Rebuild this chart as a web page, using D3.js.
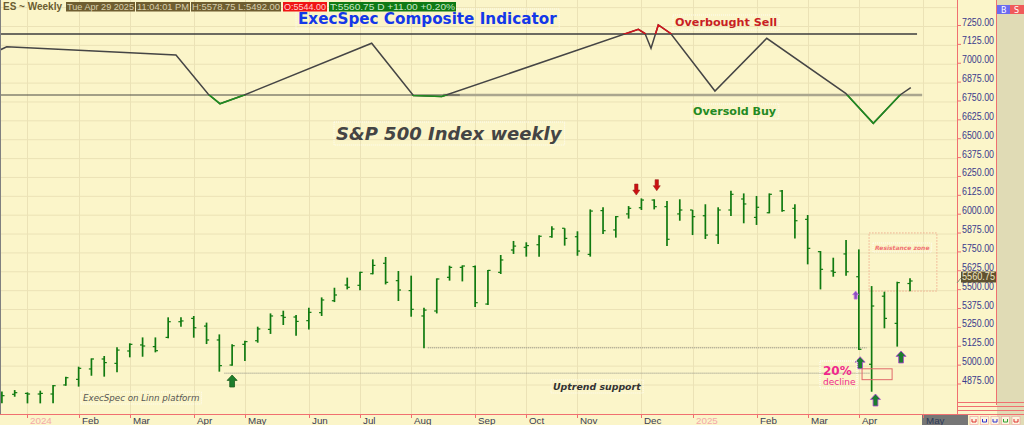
<!DOCTYPE html>
<html>
<head>
<meta charset="utf-8">
<script src="https://cdn.jsdelivr.net/npm/d3@7/dist/d3.min.js"></script>
<style>
  body { margin: 0; background: #fbf5c9; overflow: hidden; }
  svg { display: block; }
</style>
</head>
<body>
<div id="chart"></div>
<script>
// weekly ES bars, dated by the last session of each week
var weeks = ["2023-12-22","2023-12-29","2024-01-05","2024-01-12","2024-01-19","2024-01-26",
  "2024-02-02","2024-02-09","2024-02-16","2024-02-23","2024-03-01","2024-03-08","2024-03-15",
  "2024-03-22","2024-03-28","2024-04-05","2024-04-12","2024-04-19","2024-04-26","2024-05-03",
  "2024-05-10","2024-05-17","2024-05-24","2024-05-31","2024-06-07","2024-06-14","2024-06-21",
  "2024-06-28","2024-07-05","2024-07-12","2024-07-19","2024-07-26","2024-08-02","2024-08-09",
  "2024-08-16","2024-08-23","2024-08-30","2024-09-06","2024-09-13","2024-09-20","2024-09-27",
  "2024-10-04","2024-10-11","2024-10-18","2024-10-25","2024-11-01","2024-11-08","2024-11-15",
  "2024-11-22","2024-11-29","2024-12-06","2024-12-13","2024-12-20","2024-12-27","2025-01-03",
  "2025-01-10","2025-01-17","2025-01-24","2025-01-31","2025-02-07","2025-02-14","2025-02-21",
  "2025-02-28","2025-03-07","2025-03-14","2025-03-21","2025-03-28","2025-04-04","2025-04-11",
  "2025-04-17","2025-04-25","2025-04-29"];

var open  = [4812,4810,4816,4812,4812,4872,4909,4978,5044,5015,5097,5137,5126,5187,5291,5313,5262,5170,
  5004,5141,5165,5240,5331,5322,5298,5351,5430,5534,5532,5609,5678,5563,5497,5329,5362,5585,5651,5656,
  5408,5618,5766,5784,5801,5854,5910,5854,5737,6027,5899,6005,6046,6097,6053,6005,6031,5993,5865,6031,
  6104,5982,6013,6157,6042,5969,5755,5627,5740,5589,5009,5460,5280,5544];
var high  = [4828,4838,4823,4834,4872,4927,4993,5048,5064,5121,5148,5187,5187,5320,5320,5329,5285,5207,
  5141,5165,5258,5346,5364,5335,5384,5452,5516,5583,5622,5704,5720,5627,5596,5384,5578,5662,5664,5664,
  5633,5733,5826,5817,5863,5923,5910,5890,6035,6049,5991,6057,6108,6102,6091,6102,6031,6069,6049,6159,
  6141,6124,6141,6164,6069,5998,5759,5715,5832,5770,5527,5490,5556,5578.75];
var low   = [4750,4794,4750,4750,4750,4867,4861,4933,4927,4956,5055,5059,5088,5181,5258,5185,5143,4960,
  5000,5031,5152,5210,5269,5198,5240,5329,5421,5505,5499,5605,5538,5428,5324,5115,5346,5563,5558,5388,
  5402,5607,5740,5722,5722,5848,5795,5728,5722,5872,5848,5974,6031,6035,5792,5960,5865,5839,5806,5991,
  5943,5932,6009,6020,5843,5671,5505,5589,5596,5104,4827,5247,5126,5492];
var close = [4801,4821,4812,4816,4867,4920,4982,5044,5020,5103,5141,5130,5099,5291,5296,5251,5170,5000,
  5132,5159,5243,5329,5320,5293,5353,5435,5468,5519,5618,5664,5552,5501,5373,5368,5574,5651,5660,5417,
  5631,5700,5792,5795,5857,5905,5843,5759,6024,5894,5987,6042,6097,6053,5837,6031,5987,5865,6031,6135,
  6071,6049,6135,6027,5960,5777,5638,5618,5622,5108,5395,5313,5550,5560.75];

var priceTicks = [4875,5000,5125,5250,5375,5500,5625,5750,5875,6000,6125,6250,6375,6500,6625,6750,6875,7000,7125,7250];
var monthLabels = ["2024","Feb","Mar","Apr","May","Jun","Jul","Aug","Sep","Oct","Nov","Dec","2025","Feb","Mar","Apr","May"];
var monthWeeks  = [2,6,10,15,19,24,28,32,37,41,45,50,54,59,63,67,72];

// composite indicator (80 = overbought, 20 = oversold)
var indWeek  = [-0.15,0.38,13.61,16.14,17.05,18.95,28.91,32.17,34.39,49.76,50.28,50.75,51.32,52.29,55.75,59.8,65.97,68.13,70.22,71.06];
var indValue = [64.3,67.5,59.4,20.7,11.4,20.0,70.9,19.5,18.5,84.6,80.5,66.0,88.9,80.5,23.9,75.8,21.7,-7.9,20.0,27.2];

// annotations
var supportPrice = [5118, 4950];
var supportFrom  = [33.3, 17.4];
var supportTo    = [67.6, 67.9];
var upArrowWeek  = [18.0, 67.1, 68.3, 70.3];
var upArrowPrice = [4938, 5059, 4812, 5097];
var upArrowRim   = ["#1f5f1f", "#b044d8", "#b044d8", "#b044d8"];
var downArrowWeek  = [49.6, 51.2];
var downArrowPrice = [6130, 6159];
var last = { price: 5560.75 };

var W = 1024, H = 425;
var plotRight = 957, axisBottom = 414;

var x = d3.scaleLinear().domain([0, 72]).range([1.9, 922.8]);
var y = d3.scaleLinear().domain([4875, 7250]).range([384.5, 26]);
var yInd = d3.scaleLinear().domain([20, 80]).range([95, 34]);

var svg = d3.select("#chart").append("svg")
  .attr("width", W).attr("height", H)
  .style("font-family", "'DejaVu Sans', sans-serif");

svg.append("rect").attr("width", W).attr("height", H).attr("fill", "#fbf5c9");

var defs = svg.append("defs");
defs.append("clipPath").attr("id", "plot")
  .append("rect").attr("x", 0).attr("y", 0).attr("width", plotRight).attr("height", axisBottom);
defs.append("clipPath").attr("id", "below")
  .append("rect").attr("x", 0).attr("y", yInd(20)).attr("width", plotRight).attr("height", 100);
defs.append("clipPath").attr("id", "above")
  .append("rect").attr("x", 0).attr("y", 0).attr("width", plotRight).attr("height", yInd(80));

var plot = svg.append("g").attr("clip-path", "url(#plot)");

// grid
plot.selectAll(".hgrid").data(priceTicks.concat([7375])).enter().append("line")
  .attr("x1", 0).attr("x2", plotRight)
  .attr("y1", d => y(d) + 0.5).attr("y2", d => y(d) + 0.5)
  .attr("stroke", "#ebe2b6").attr("stroke-width", 1);
plot.selectAll(".vgrid").data(monthWeeks).enter().append("line")
  .attr("x1", d => Math.round(x(d)) + 0.5).attr("x2", d => Math.round(x(d)) + 0.5)
  .attr("y1", 0).attr("y2", axisBottom)
  .attr("stroke", "#ebe2b6");

// overbought / oversold levels
plot.append("line")
  .attr("x1", 0).attr("x2", x(71.55)).attr("y1", yInd(80)).attr("y2", yInd(80))
  .attr("stroke", "#3c3c3c").attr("stroke-width", 1.4);
plot.append("line")
  .attr("x1", x(34.5)).attr("x2", x(71.95)).attr("y1", yInd(20)).attr("y2", yInd(20))
  .attr("stroke", "#aaa68e").attr("stroke-width", 2.6);
plot.append("line")
  .attr("x1", 0).attr("x2", x(35.8)).attr("y1", yInd(20)).attr("y2", yInd(20))
  .attr("stroke", "#4a4a44").attr("stroke-width", 1.2);

// composite indicator
var ind = indWeek.map((w, i) => [w, indValue[i]]);
var indLine = d3.line().x(d => x(d[0])).y(d => yInd(d[1]));
plot.append("path").datum(ind).attr("d", indLine)
  .attr("fill", "none").attr("stroke", "#454545").attr("stroke-width", 1.5);
plot.append("path").datum(ind).attr("d", indLine).attr("clip-path", "url(#below)")
  .attr("fill", "none").attr("stroke", "#1f8c1f").attr("stroke-width", 1.6);
plot.append("path").datum(ind).attr("d", indLine).attr("clip-path", "url(#above)")
  .attr("fill", "none").attr("stroke", "#d4141c").attr("stroke-width", 1.6);

// support lines
plot.selectAll(".support").data(supportPrice).enter().append("line")
  .attr("x1", (d, i) => x(supportFrom[i])).attr("x2", (d, i) => x(supportTo[i]))
  .attr("y1", d => y(d)).attr("y2", d => y(d))
  .attr("stroke", "#8a8a80").attr("stroke-width", 1).attr("stroke-dasharray", "1,1");

// resistance zone
plot.append("rect")
  .attr("x", x(67.8)).attr("y", y(5879))
  .attr("width", x(73.1) - x(67.8)).attr("height", y(5494) - y(5879))
  .attr("fill", "none").attr("stroke", "#f0b090").attr("stroke-dasharray", "1.5,1.5");

// price bars
var bars = plot.selectAll(".bar").data(weeks).enter().append("g").attr("class", "bar");
bars.append("line")
  .attr("x1", (d, i) => x(i)).attr("x2", (d, i) => x(i))
  .attr("y1", (d, i) => y(high[i])).attr("y2", (d, i) => y(low[i]))
  .attr("stroke", "#107a10").attr("stroke-width", 1.7);
bars.append("line")
  .attr("x1", (d, i) => x(i) - 2.6).attr("x2", (d, i) => x(i))
  .attr("y1", (d, i) => y(open[i])).attr("y2", (d, i) => y(open[i]))
  .attr("stroke", "#107a10").attr("stroke-width", 1.2);
bars.append("line")
  .attr("x1", (d, i) => x(i)).attr("x2", (d, i) => x(i) + 2.6)
  .attr("y1", (d, i) => y(close[i])).attr("y2", (d, i) => y(close[i]))
  .attr("stroke", "#107a10").attr("stroke-width", 1.2);

// arrows
function upArrow(cx, cy, w, h) {
  var hh = h * 0.45, s = w * 0.24;
  return "M" + cx + "," + cy + "L" + (cx + w / 2) + "," + (cy + hh) + "L" + (cx + s) + "," + (cy + hh) +
    "L" + (cx + s) + "," + (cy + h) + "L" + (cx - s) + "," + (cy + h) + "L" + (cx - s) + "," + (cy + hh) +
    "L" + (cx - w / 2) + "," + (cy + hh) + "Z";
}
plot.selectAll(".up").data(upArrowWeek).enter().append("path")
  .attr("d", (d, i) => upArrow(x(d), y(upArrowPrice[i]), 10, 12))
  .attr("fill", "#1c7e2c").attr("stroke", (d, i) => upArrowRim[i]).attr("stroke-width", 0.8);
plot.append("path")
  .attr("d", upArrow(x(66.75), y(5494), 6, 8))
  .attr("fill", "#8a50c0").attr("stroke", "#c070e0").attr("stroke-width", 0.8);
plot.selectAll(".down").data(downArrowWeek).enter().append("path")
  .attr("d", (d, i) => upArrow(x(d), y(downArrowPrice[i]), 7, 11))
  .attr("transform", (d, i) => "rotate(180," + x(d) + "," + y(downArrowPrice[i]) + ")")
  .attr("fill", "#cc1010").attr("stroke", "#9a2020").attr("stroke-width", 0.6);

// 20% decline box
plot.append("rect")
  .attr("x", x(67.25)).attr("y", y(4979))
  .attr("width", x(69.6) - x(67.25)).attr("height", y(4907) - y(4979))
  .attr("fill", "none").attr("stroke", "#e06a6a").attr("stroke-width", 1);

// text labels with faint boxes
function label(txt, px, py, size, color, weight, style, boxed) {
  var t = svg.append("text").attr("x", px).attr("y", py)
    .attr("font-size", size).attr("fill", color)
    .attr("font-weight", weight).attr("font-style", style).text(txt);
  if (boxed) {
    var b = t.node().getBBox();
    svg.insert("rect", "text")
      .attr("x", b.x - 2).attr("y", b.y - 1).attr("width", b.width + 4).attr("height", b.height + 2)
      .attr("fill", "none").attr("stroke", "#ffffff").attr("stroke-opacity", 0.8)
      .attr("stroke-dasharray", "1,1");
  }
  return t;
}
label("ExecSpec Composite Indicator", 298, 24, 15.2, "#1438e8", "bold", "normal", true);
label("Overbought Sell", 675, 26, 11.2, "#c81e24", "bold", "normal", true);
label("Oversold Buy", 693, 115, 11.1, "#238a23", "bold", "normal", true);
label("S&P 500 Index weekly", 336, 140, 18, "#444444", "bold", "italic", true);
label("ExecSpec on Linn platform", 83, 401, 8.7, "#555555", "normal", "italic", true);
label("Uptrend support", 553, 390, 9.4, "#333333", "bold", "italic", true);
label("Resistance zone", 875, 250, 6, "#f07272", "bold", "italic", true);
label("20%", 823, 375, 12, "#f0288c", "bold", "normal", false);
label("decline", 823, 385, 9, "#f0288c", "normal", "normal", false);
svg.append("rect").attr("x", 820).attr("y", 361).attr("width", 37).attr("height", 27)
  .attr("fill", "none").attr("stroke", "#ffffff").attr("stroke-dasharray", "1,1");

// header
svg.append("text").attr("x", 3).attr("y", 10).attr("font-size", 10).attr("font-weight", "bold")
  .attr("fill", "#6b5c30").style("font-family", "'Liberation Sans', sans-serif")
  .attr("textLength", 59).attr("lengthAdjust", "spacingAndGlyphs").text("ES ~ Weekly");
var headTexts = ["Tue Apr 29 2025", "11:04:01 PM", "H:5578.75  L:5492.00", "O:5544.00", "T:5560.75 D  +11.00  +0.20%"];
var headX     = [66, 136, 191, 283, 329];
var headW     = [69, 54, 90, 44, 127];
var headFill  = ["#6e5d30", "#6e5d30", "#6e5d30", "#f01414", "#0f7a14"];
var headInk   = ["#d8cfae", "#d8cfae", "#d8cfae", "#ffd0d0", "#c8e8c8"];
headTexts.forEach(function (t, i) {
  svg.append("rect").attr("x", headX[i]).attr("y", 2).attr("width", headW[i]).attr("height", 9.5)
    .attr("fill", headFill[i]);
  svg.append("text").attr("x", headX[i] + 1).attr("y", 10).attr("font-size", 9.4)
    .style("font-family", "'Liberation Sans', sans-serif").attr("fill", headInk[i])
    .attr("textLength", headW[i] - 2).attr("lengthAdjust", "spacingAndGlyphs").text(t);
});

// right axis
svg.append("rect").attr("x", 997).attr("y", 0).attr("width", 27).attr("height", H).attr("fill", "#e0dbb5");
svg.append("line").attr("x1", plotRight + 0.5).attr("x2", plotRight + 0.5).attr("y1", 0).attr("y2", axisBottom)
  .attr("stroke", "#f07070");
svg.append("line").attr("x1", 996.5).attr("x2", 996.5).attr("y1", 0).attr("y2", 405)
  .attr("stroke", "#f07070");
var yAxis = svg.append("g");
yAxis.selectAll(".tk").data(priceTicks).enter().append("line")
  .attr("x1", plotRight).attr("x2", plotRight + 4)
  .attr("y1", d => y(d) - 0.5).attr("y2", d => y(d) - 0.5).attr("stroke", "#f07070");
yAxis.selectAll(".lb").data(priceTicks).enter().append("text")
  .attr("x", 962).attr("y", d => y(d) - 0.5)
  .attr("font-size", 10).style("font-family", "'Liberation Sans', sans-serif")
  .attr("fill", "#3a3a8c").attr("textLength", 32).attr("lengthAdjust", "spacingAndGlyphs")
  .text(d => d3.format(".2f")(d));

// last price marker
svg.append("line").attr("x1", plotRight).attr("x2", 961).attr("y1", y(last.price) + 2).attr("y2", y(last.price) - 3)
  .attr("stroke", "#8a8a70");
svg.append("rect").attr("x", 961).attr("y", y(last.price) - 9.5).attr("width", 35).attr("height", 11)
  .attr("fill", "#5f5230");
svg.append("text").attr("x", 962).attr("y", y(last.price) - 0.5).attr("font-size", 10)
  .style("font-family", "'Liberation Sans', sans-serif").attr("fill", "#efe6c4")
  .attr("textLength", 33).attr("lengthAdjust", "spacingAndGlyphs").text(d3.format(".2f")(last.price));

// B / S buttons
svg.append("rect").attr("x", 997).attr("y", 5).attr("width", 13).attr("height", 9).attr("fill", "#6a6af0");
svg.append("rect").attr("x", 1010).attr("y", 5).attr("width", 14).attr("height", 9).attr("fill", "#f05a5a");
svg.append("text").attr("x", 1001).attr("y", 12.5).attr("font-size", 8).attr("fill", "#ffffff").text("B");
svg.append("text").attr("x", 1014).attr("y", 12.5).attr("font-size", 8).attr("fill", "#ffffff").text("S");

// bottom right rules and icons
[402, 406, 410, 414].forEach(function (ry) {
  svg.append("line").attr("x1", plotRight).attr("x2", W).attr("y1", ry + 0.5).attr("y2", ry + 0.5)
    .attr("stroke", "#f07070");
});
var iconInk = ["#e03030", "#3030d0", "#3030d0", "#30a030", "#e03030"];
iconInk.forEach(function (c, i) {
  var ix = 970 + i * 10.5;
  svg.append("rect").attr("x", ix).attr("y", 416.5).attr("width", 8).attr("height", 8)
    .attr("fill", "#fbf5e0").attr("stroke", "#f0a0a0").attr("stroke-width", 0.6);
  svg.append("path").attr("d", "M" + (ix + 2) + ",419 L" + (ix + 2) + ",422 L" + (ix + 6) + ",422 L" + (ix + 6) + ",419")
    .attr("fill", "none").attr("stroke", c).attr("stroke-width", 1);
});

// bottom axis
svg.append("line").attr("x1", 0).attr("x2", plotRight).attr("y1", axisBottom + 0.5).attr("y2", axisBottom + 0.5)
  .attr("stroke", "#f07070").attr("stroke-width", 1.2);
svg.append("rect").attr("x", 922).attr("y", 415).attr("width", 46).attr("height", 10).attr("fill", "#767676");
var xAxis = svg.append("g");
xAxis.selectAll(".tk").data(monthWeeks).enter().append("line")
  .attr("x1", d => Math.round(x(d)) + 0.5).attr("x2", d => Math.round(x(d)) + 0.5)
  .attr("y1", axisBottom).attr("y2", axisBottom + 4).attr("stroke", "#f07070");
xAxis.selectAll(".lb").data(monthLabels).enter().append("text")
  .attr("x", (d, i) => Math.round(x(monthWeeks[i])) + 3).attr("y", 424)
  .attr("font-size", 9.8).style("font-family", "'Liberation Sans', sans-serif")
  .attr("fill", (d, i) => /^\d+$/.test(d) ? "#f4a8a8" : (i === monthLabels.length - 1 ? "#2c3a58" : "#3c4052"))
  .text(d => d);

// left border
svg.append("line").attr("x1", 0.5).attr("x2", 0.5).attr("y1", 0).attr("y2", axisBottom)
  .attr("stroke", "#808080");
</script>
</body>
</html>
